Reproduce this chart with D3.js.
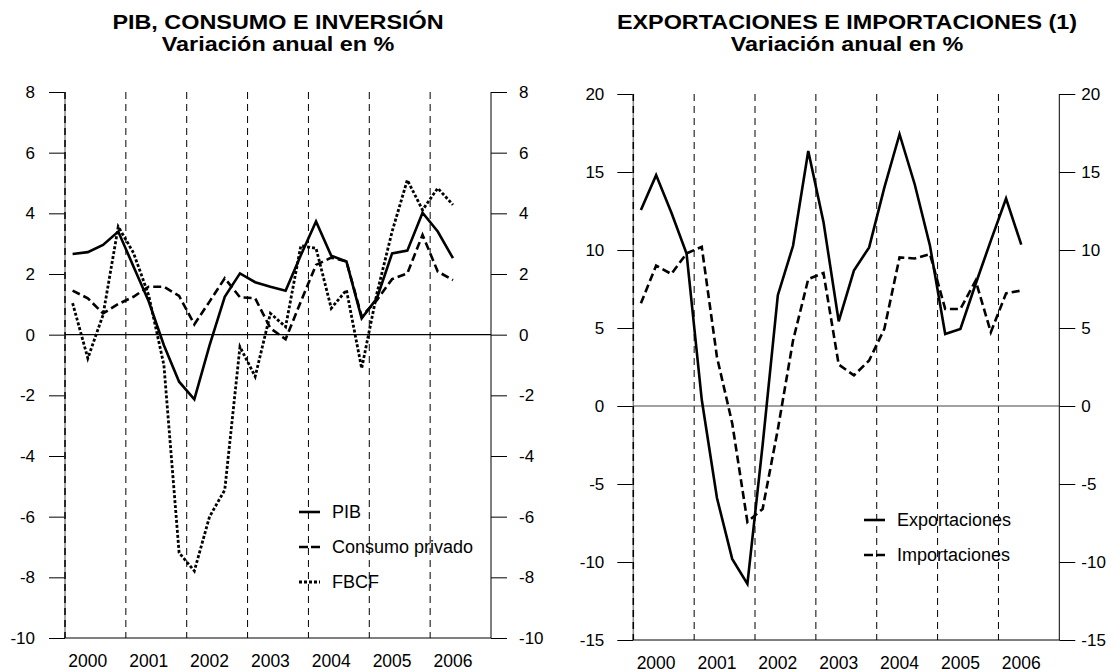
<!DOCTYPE html>
<meta charset="utf-8">
<head>
  <title>PIB, consumo e inversión / Exportaciones e importaciones</title>
</head>
<style>
  body { margin: 0; background: #fff; }
  svg { font-family: "Liberation Sans", Arial, sans-serif; }
  .title { font-size: 19.5px; font-weight: bold; text-anchor: middle; }
  .year-label { font-size: 17.5px; text-anchor: middle; }
  .legend text { font-size: 18px; }
</style>
<body>
<script src="https://cdn.jsdelivr.net/npm/d3@7"></script>
<script>
// quarters 2000T1 .. 2006T2
var years = ["2000", "2001", "2002", "2003", "2004", "2005", "2006"];
var quarters = [];
years.forEach(function(y) { [1, 2, 3, 4].forEach(function(q) { quarters.push(y + "T" + q); }); });
quarters = quarters.slice(0, 26);

// left panel
var pib     = [2.66, 2.72, 2.96, 3.40, 2.25, 1.10, -0.35, -1.55, -2.13, -0.35, 1.25, 2.02, 1.73, 1.58, 1.45, 2.62, 3.73, 2.60, 2.41, 0.54, 1.20, 2.68, 2.77, 4.02, 3.40, 2.52];
var consumo = [1.45, 1.20, 0.70, 1.01, 1.25, 1.58, 1.58, 1.28, 0.34, 1.09, 1.86, 1.23, 1.20, 0.21, -0.15, 1.09, 2.30, 2.54, 2.41, 0.60, 1.14, 1.83, 2.02, 3.29, 2.08, 1.80];
var fbcf    = [1.04, -0.78, 0.65, 3.56, 2.70, 1.30, -1.00, -7.19, -7.79, -6.00, -5.12, -0.40, -1.38, 0.70, 0.26, 2.93, 2.85, 0.87, 1.47, -1.11, 1.36, 3.40, 5.10, 4.11, 4.83, 4.28];
var leftTicks = [8, 6, 4, 2, 0, -2, -4, -6, -8, -10];

// right panel
var exportaciones = [12.56, 14.80, 12.40, 9.78, 0.40, -5.90, -9.80, -11.40, -2.50, 7.10, 10.27, 16.35, 11.80, 5.43, 8.68, 10.17, 14.00, 17.42, 14.20, 10.27, 4.62, 4.94, 7.82, 10.60, 13.30, 10.34];
var importaciones = [6.58, 9.00, 8.46, 9.78, 10.20, 3.13, -1.10, -7.43, -6.60, -1.50, 4.20, 8.14, 8.53, 2.66, 1.96, 2.92, 4.94, 9.53, 9.46, 9.74, 6.22, 6.22, 8.04, 4.73, 7.22, 7.40];
var rightTicks = [20, 15, 10, 5, 0, -5, -10, -15];

var W = 1117, H = 672;
var svg = d3.select("body").append("svg").attr("width", W).attr("height", H);

var styles = {
  solid:  { width: 2.6, dash: null },
  dashed: { width: 2.6, dash: "8,4" },
  dotted: { width: 2.8, dash: "3,2" }
};

function drawPanel(p) {
  var g = svg.append("g");

  // x: one band per quarter, 28 quarters over 7 years
  var x = d3.scaleBand().domain(d3.range(28)).range([p.x0, p.x1]);
  var y = d3.scaleLinear().domain(p.domain).range([p.yBottom, p.yTop]);
  var yearX = d3.scaleLinear().domain([0, 7]).range([p.x0, p.x1]);
  var qx = function(i) { return x(i) + x.bandwidth() / 2; };

  // titles (the original type is a little wider than Liberation Sans Bold)
  [[p.title, 29], ["Variación anual en %", 51]].forEach(function(t) {
    g.append("g").attr("transform", "translate(" + p.titleX + "," + t[1] + ") scale(1.2,1)")
      .append("text").attr("class", "title").text(t[0]);
  });

  // vertical dashed year separators
  g.selectAll(".vgrid").data(d3.range(1, 7)).enter().append("line")
      .attr("x1", function(d) { return yearX(d); })
      .attr("x2", function(d) { return yearX(d); })
      .attr("y1", y(p.domain[1])).attr("y2", y(p.domain[0]))
      .attr("stroke", "#000").attr("stroke-width", 1)
      .attr("stroke-dasharray", "7,5");

  // left and right axes
  var fmt = function(d) { return String(d); };
  var axL = d3.axisLeft(y).tickValues(p.ticks).tickSize(16).tickPadding(p.padL).tickFormat(fmt);
  var axR = d3.axisRight(y).tickValues(p.ticks).tickSize(16).tickPadding(p.padR).tickFormat(fmt);
  var gl = g.append("g").attr("transform", "translate(" + p.x0 + ",0)").call(axL);
  var gr = g.append("g").attr("transform", "translate(" + p.x1 + ",0)").call(axR);
  [gl, gr].forEach(function(a) {
    a.select(".domain").remove();
    a.selectAll(".tick line").attr("stroke", "#000");
    a.selectAll(".tick text").attr("fill", "#000")
      .style("font-family", "Liberation Sans, Arial, sans-serif")
      .style("font-size", "17px");
  });
  gl.append("line").attr("y1", y(p.domain[1])).attr("y2", y(p.domain[0]))
    .attr("stroke", "#888").attr("stroke-width", 1.5);
  gl.append("line").attr("y1", y(p.domain[1])).attr("y2", y(p.domain[0]))
    .attr("stroke", "#000").attr("stroke-width", 1.5).attr("stroke-dasharray", "7,5");
  gr.append("line").attr("y1", y(p.domain[1])).attr("y2", y(p.domain[0]))
    .attr("stroke", "#000").attr("stroke-width", 1);

  // bottom and zero lines
  g.append("line").attr("x1", p.x0).attr("x2", p.x1).attr("y1", y(p.domain[0])).attr("y2", y(p.domain[0]))
    .attr("stroke", "#000").attr("stroke-width", 1);
  g.append("line").attr("x1", p.x0).attr("x2", p.x1).attr("y1", y(0)).attr("y2", y(0))
    .attr("stroke", p.zeroColor).attr("stroke-width", 1.2);

  // year labels (centred on the 2nd quarter)
  g.selectAll(".year-label").data(years).enter().append("text")
      .attr("class", "year-label")
      .attr("x", function(d, i) { return qx(i * 4 + 1); })
      .attr("y", p.yearY)
      .text(function(d) { return d; });

  // series
  var line = d3.line().x(function(d, i) { return qx(i); }).y(function(d) { return y(d); });
  p.series.forEach(function(s) {
    var st = styles[s.style];
    g.append("path").datum(s.values)
      .attr("d", line)
      .attr("fill", "none").attr("stroke", "#000")
      .attr("stroke-width", st.width)
      .attr("stroke-linejoin", "miter")
      .attr("stroke-dasharray", st.dash);
  });

  // legend
  var lg = g.append("g").attr("class", "legend");
  p.series.forEach(function(s, i) {
    var st = styles[s.style];
    var ly = p.legendY + i * 35;
    lg.append("line").attr("x1", p.legendX).attr("x2", p.legendX + 21)
      .attr("y1", ly).attr("y2", ly)
      .attr("stroke", "#000").attr("stroke-width", st.width)
      .attr("stroke-dasharray", s.style === "dashed" ? "9,3" : st.dash);
    lg.append("text").attr("x", p.legendX + 33).attr("y", ly).attr("dy", "0.35em").text(s.name);
  });
}

drawPanel({
  title: "PIB, CONSUMO E INVERSIÓN", titleX: 278,
  x0: 65, x1: 491, yTop: 92, yBottom: 638, domain: [-10, 8], ticks: leftTicks,
  padL: 14, padR: 12, zeroColor: "#000",
  yearY: 667,
  legendX: 299, legendY: 512,
  series: [
    { name: "PIB", values: pib, style: "solid" },
    { name: "Consumo privado", values: consumo, style: "dashed" },
    { name: "FBCF", values: fbcf, style: "dotted" }
  ]
});

drawPanel({
  title: "EXPORTACIONES E IMPORTACIONES (1)", titleX: 847,
  x0: 633.3, x1: 1059.3, yTop: 94, yBottom: 640, domain: [-15, 20], ticks: rightTicks,
  padL: 13, padR: 6, zeroColor: "#444",
  yearY: 668.5,
  legendX: 864, legendY: 520,
  series: [
    { name: "Exportaciones", values: exportaciones, style: "solid" },
    { name: "Importaciones", values: importaciones, style: "dashed" }
  ]
});
</script>
</body>
